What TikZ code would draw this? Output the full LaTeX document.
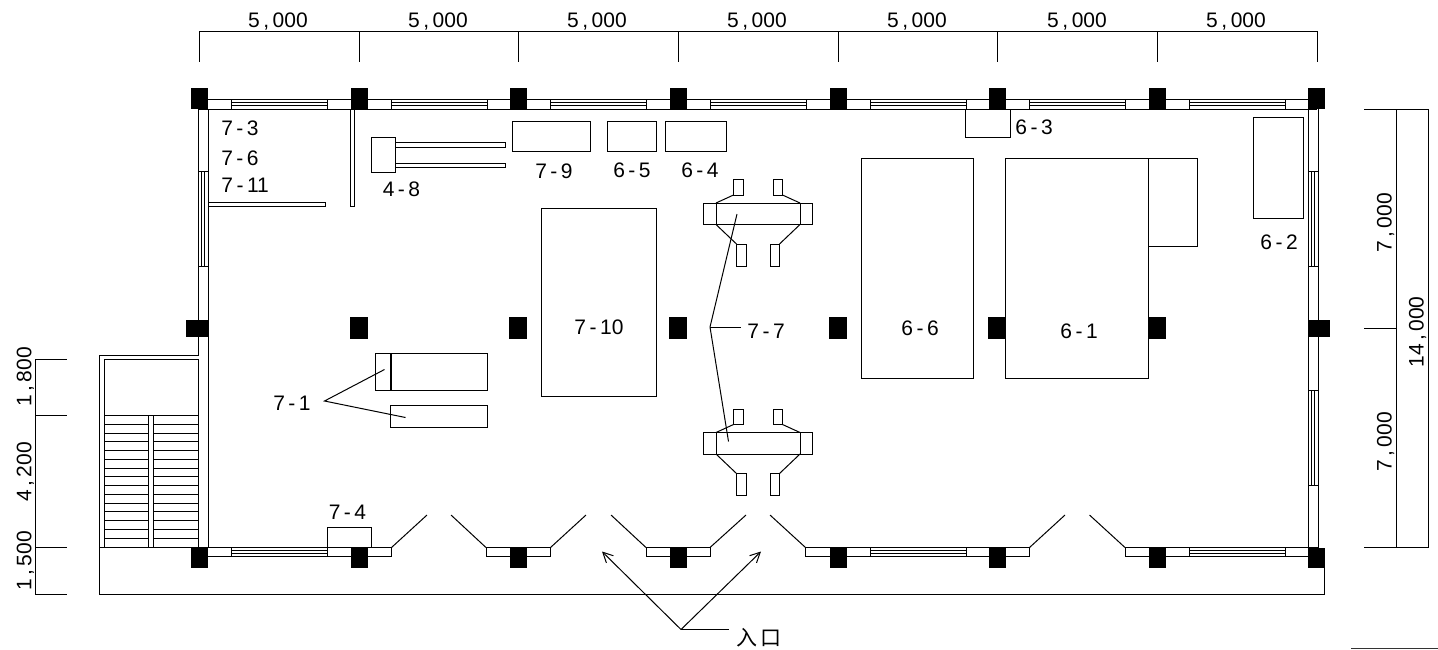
\documentclass[tikz,border=0pt]{standalone}
\usepackage{fontspec}
\setmainfont{Liberation Sans}
\newfontfamily\cjkfont{Noto Sans CJK SC}
\usetikzlibrary{arrows.meta}
\tikzset{
  planline/.style={draw=black,line width=0.5pt},
  column/.style={fill=black},
  lab/.style={inner sep=0pt,text height=7.5pt,text depth=0pt,font=\fontsize{10.5}{12}\selectfont},
  entryarrow/.style={planline,-{Straight Barb[length=5pt,width=5pt,line width=0.5pt]}}
}
\begin{document}
\begin{tikzpicture}[x=0.5pt,y=-0.5pt]
    \useasboundingbox (0,0) rectangle (1438,649);
    % top dimensions
    \draw[planline] (199,31) -- (1317,31);
    \foreach \x in {199,359,518,678,838,997,1157,1317}
      \draw[planline] (\x,31) -- (\x,62);
    \foreach \x/\i in {278/1,438/2,597/3,757/4,917/5,1077/6,1236/7}
      \node[lab] (top\i) at (\x,19.5) {5\,,\,000};
    % left dimensions
    \draw[planline] (35,359) -- (35,594);
    \foreach \y in {359,415.5,547.5,594}
      \draw[planline] (35,\y) -- (67,\y);
    \node[lab,rotate=90] (left1) at (24,377) {1\,,\,800};
    \node[lab,rotate=90] (left2) at (24,472) {4\,,\,200};
    \node[lab,rotate=90] (left3) at (24,561) {1\,,\,500};
    % right dimensions
    \draw[planline] (1364,109) -- (1428,109) -- (1428,547.5) -- (1364,547.5);
    \draw[planline] (1396,109) -- (1396,547.5);
    \draw[planline] (1364,328) -- (1396,328);
    \draw[line width=0.7pt,draw=black!80] (1351,648.5) -- (1438,648.5);
    \node[lab,rotate=90] (right1) at (1384,223) {7\,,\,000};
    \node[lab,rotate=90] (right2) at (1384,442) {7\,,\,000};
    \node[lab,rotate=90] (right3) at (1416,332) {14\,,\,000};
    % outer walls
    \draw[planline] (199,99) -- (1317,99);
    \draw[planline] (199,109) -- (1317,109);
    \draw[planline] (198,109) -- (198,355) -- (99,355) -- (99,594) -- (1324.5,594) -- (1324.5,560);
    \draw[planline] (208,109) -- (208,547.5);
    \draw[planline] (1308,109) -- (1308,547.5);
    \draw[planline] (1318,109) -- (1318,547.5);
    \draw[planline] (104,547.5) -- (104,359) -- (198,359) -- (198,547.5);
    \draw[planline] (99,547.5) -- (391.5,547.5) -- (391.5,556.5) -- (208,556.5);
    \draw[planline] (486,547.5) rectangle (550.5,556.5);
    \draw[planline] (646,547.5) rectangle (710,556.5);
    \draw[planline] (805.5,547.5) rectangle (1029.5,556.5);
    \draw[planline] (1125,547.5) rectangle (1317,556.5);
    % door leaves
    \foreach \ax/\bx in {391.5/427,486/451,550.5/586,646/611,710/746,805.5/770,1029.5/1065,1125/1089.5}
      \draw[planline] (\ax,547.5) -- (\bx,515);
    % windows
    \foreach \x in {199,359,518,678,838,997,1157} {
      \draw[planline] ({\x+32},99) rectangle ({\x+128},109);
      \draw[planline] ({\x+32},102.5) -- ({\x+128},102.5);
      \draw[planline] ({\x+32},105.5) -- ({\x+128},105.5);
    }
    \foreach \x in {199,838,1157} {
      \draw[planline] ({\x+32},547.5) rectangle ({\x+128},556.5);
      \draw[planline] ({\x+32},550.5) -- ({\x+128},550.5);
      \draw[planline] ({\x+32},553.5) -- ({\x+128},553.5);
    }
    \foreach \xa/\xb/\ya/\yb in {198/208/171/266,1308/1318/171/266,1308/1318/390/485} {
      \draw[planline] (\xa,\ya) rectangle (\xb,\yb);
      \draw[planline] ({\xa+3.5},\ya) -- ({\xa+3.5},\yb);
      \draw[planline] ({\xa+6.5},\ya) -- ({\xa+6.5},\yb);
    }
    % stairs
    \draw[planline] (148.5,415.5) -- (148.5,547.5);
    \draw[planline] (153.5,415.5) -- (153.5,547.5);
    \draw[planline] (104,415.5) -- (198,415.5);
    \foreach \i in {1,...,14} {
      \draw[planline] (104,{415.5+8.76*\i}) -- (148.5,{415.5+8.76*\i});
      \draw[planline] (153.5,{415.5+8.76*\i}) -- (198,{415.5+8.76*\i});
    }
    % columns
    \foreach \x in {199.5,359,518,678,838,997,1157,1316.5} {
      \fill[column] ({\x-8.5},88) rectangle ({\x+8.5},109);
      \fill[column] ({\x-8.5},547.5) rectangle ({\x+8.5},568);
    }
    \foreach \x in {359,518,678,838,997,1157}
      \fill[column] ({\x-9},317) rectangle ({\x+9},339);
    \fill[column] (186,320) rectangle (208,337);
    \fill[column] (1308,320) rectangle (1330,337);
    % partitions
    \draw[planline] (208,202.5) rectangle (325.5,206.5);
    \draw[planline] (350.5,109) rectangle (354.5,206.5);
    % equipment
    \draw[planline] (371,137.5) rectangle (395.5,172.5);
    \draw[planline] (395.5,142.5) rectangle (505.5,147.5);
    \draw[planline] (395.5,163) rectangle (505.5,167.5);
    \draw[planline] (512,121) rectangle (590,151);
    \draw[planline] (607,121) rectangle (656,151);
    \draw[planline] (665,121) rectangle (726,151);
    \draw[planline] (965,109) rectangle (1010,137);
    \draw[planline] (1253,117.5) rectangle (1303,218.5);
    \draw[planline] (861,158) rectangle (973,378);
    \draw[planline] (1005,158) rectangle (1148,378);
    \draw[planline] (1148,158) rectangle (1197,246.5);
    \draw[planline] (541,208) rectangle (656,396);
    \draw[planline] (375,353) rectangle (487,390.5);
    \draw[line width=1pt] (390.5,353) -- (390.5,390.5);
    \draw[planline] (390.5,405) rectangle (487,427);
    \draw[planline] (327,547.5) -- (327,527.5) -- (371.5,527.5) -- (371.5,547.5);
    % the two machines
    \foreach \d in {0,229.5} {
      \begin{scope}[yshift={-\d*0.5pt}]
        \draw[planline] (716,203) rectangle (800,224.5);
        \draw[planline] (703.5,203) rectangle (716,224.5);
        \draw[planline] (800,203) rectangle (812.5,224.5);
        \draw[planline] (733.5,179.5) rectangle (743,195);
        \draw[planline] (773,179.5) rectangle (782.5,195);
        \draw[planline] (736.5,244) rectangle (746,266);
        \draw[planline] (770,244) rectangle (779.5,266);
        \draw[planline] (716,203) -- (733.5,195);
        \draw[planline] (800,203) -- (782.5,195);
        \draw[planline] (716,224.5) -- (736.5,244);
        \draw[planline] (800,224.5) -- (779.5,244);
      \end{scope}
    }
    % labels
    \node[lab] (l73) at (240,127.5) {7\,-\,3};
    \node[lab] (l76) at (240,157.5) {7\,-\,6};
    \node[lab,anchor=west] (l711) at (221,185) {7\,-\,11};
    \node[lab] (l48) at (401.5,189) {4\,-\,8};
    \node[lab] (l79) at (554,171) {7\,-\,9};
    \node[lab] (l65) at (632,170) {6\,-\,5};
    \node[lab] (l64) at (700,170) {6\,-\,4};
    \node[lab] (l63) at (1034,127) {6\,-\,3};
    \node[lab] (l62) at (1279,241.5) {6\,-\,2};
    \node[lab] (l61) at (1079,331) {6\,-\,1};
    \node[lab] (l66) at (920,328) {6\,-\,6};
    \node[lab] (l710) at (599,327) {7\,-\,10};
    \node[lab] (l77) at (766,331) {7\,-\,7};
    \node[lab] (l71) at (292,403) {7\,-\,1};
    \node[lab] (l74) at (347.5,511.5) {7\,-\,4};
    \node[lab,font=\cjkfont\fontsize{10.5}{12}\selectfont] (entry) at (759,638) {入\,口};
    % leaders
    \coordinate (lead71) at (324.5,401);
    \coordinate (box71a) at (384.5,369.5);
    \coordinate (box71b) at (405.5,417.5);
    \draw[planline] (box71a) -- (lead71) -- (box71b);
    \coordinate (lead77) at (710,327);
    \coordinate (mach1) at (737,214);
    \coordinate (mach2) at (728.5,441.5);
    \draw[planline] (mach1) -- (lead77) -- (mach2);
    \draw[planline] (lead77) -- (741,327);
    \coordinate (leadin) at (681,629.5);
    \coordinate (doorl) at (602,551.5);
    \coordinate (doorr) at (761,551.5);
    \draw[entryarrow] (leadin) -- (doorl);
    \draw[entryarrow] (leadin) -- (doorr);
    \draw[planline] (leadin) -- (729,629.5);
\end{tikzpicture}
\end{document}
